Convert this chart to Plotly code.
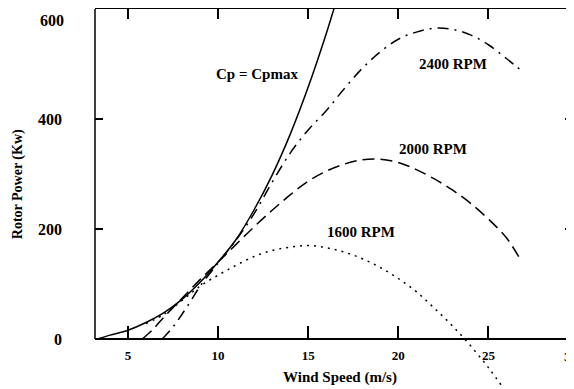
import plotly.graph_objects as go

# ---- data ----
cp_max_v = [3.3, 4, 5, 6, 7, 8, 9, 10, 11, 12, 13, 14, 15, 16, 16.7]
cp_max_p = [0, 7, 16, 30, 48, 72, 103, 140, 181, 235, 298, 372, 458, 555, 630]

rpm2400_v = [6.9, 7.5, 8, 8.5, 9, 10, 11, 12, 13, 14, 15, 16, 17, 18, 19, 20, 21, 22, 23, 24, 25, 26, 26.9]
rpm2400_p = [0, 22, 45, 70, 96, 138, 180, 228, 285, 338, 380, 415, 455, 492, 522, 545, 558, 565, 563, 553, 535, 510, 486]

rpm2000_v = [5.8, 6.4, 7, 8, 9, 10, 11, 12, 13, 14, 15, 16, 17, 18, 19, 20, 21, 22, 23, 24, 25, 26, 26.8]
rpm2000_p = [0, 18, 40, 74, 108, 140, 172, 204, 234, 262, 287, 305, 318, 326, 327, 321, 308, 291, 271, 247, 218, 184, 143]

rpm1600_v = [6, 7, 8, 9, 10, 11, 12, 13, 14, 15, 16, 17, 18, 19, 20, 21, 22, 23, 24, 25, 25.8]
rpm1600_p = [28, 45, 70, 96, 116, 134, 150, 161, 167, 170, 166, 158, 146, 130, 110, 86, 56, 24, -12, -52, -88]

x_ticks = [5, 10, 15, 20, 25]
y_ticks = [0, 200, 400, 600]
y_tick_labels = ["0", "200", "400", ""]   # "600" sits a bit lower in the reference, drawn separately

curve_labels = ["Cp = Cpmax", "2400 RPM", "2000 RPM", "1600 RPM"]
label_x = [12.16, 23.04, 21.93, 17.93]
label_y = [482, 500, 346, 194]

FONT = "Liberation Serif, Times New Roman, Times, serif"
X_RANGE = [3.17, 29.75]
Y_RANGE = [-90.9, 600]

fig = go.Figure()
line_w = 1.5
# Cp=Cpmax curve drawn on the overlaying axis pair (same ranges) so the top/right axis is drawn
fig.add_trace(go.Scatter(x=cp_max_v, y=cp_max_p, mode="lines", xaxis="x2", yaxis="y2",
                         line=dict(color="black", width=line_w, shape="spline")))
fig.add_trace(go.Scatter(x=rpm2400_v, y=rpm2400_p, mode="lines",
                         line=dict(color="black", width=line_w, shape="spline", dash="11px,6px,2px,6px")))
fig.add_trace(go.Scatter(x=rpm2000_v, y=rpm2000_p, mode="lines",
                         line=dict(color="black", width=line_w, shape="spline", dash="12px,6px")))
fig.add_trace(go.Scatter(x=rpm1600_v, y=rpm1600_p, mode="lines",
                         line=dict(color="black", width=line_w, shape="spline", dash="2px,5px")))

for t, xx, yy in zip(curve_labels, label_x, label_y):
    fig.add_annotation(x=xx, y=yy, xref="x", yref="y", text="<b>" + t + "</b>", showarrow=False,
                       font=dict(family=FONT, size=15, color="black"))

# axis titles
fig.add_annotation(x=0.511, y=0.029, xref="paper", yref="paper", xanchor="center", yanchor="middle",
                   text="<b>Wind Speed (m/s)</b>",
                   showarrow=False, font=dict(family=FONT, size=15, color="black"))
fig.add_annotation(x=-0.162, y=0.54, xref="paper", yref="paper", xanchor="center", yanchor="middle",
                   text="<b>Rotor Power (Kw)</b>",
                   textangle=-90, showarrow=False, font=dict(family=FONT, size=14, color="black"))
# the cut-off "30" tick label at the right edge
fig.add_annotation(x=1.0104, y=0, xref="paper", yref="y", yshift=-17, text="<b>30</b>",
                   showarrow=False, font=dict(family=FONT, size=13, color="black"))
# the "600" tick label (slightly below its tick in the reference)
fig.add_annotation(x=-0.0605, y=0.971, xref="paper", yref="paper", xanchor="right", yanchor="middle",
                   text="<b>600</b>",
                   showarrow=False, font=dict(family=FONT, size=16, color="black"))

# left axis line from 0 to 600 only
fig.add_shape(type="line", xref="paper", x0=0, x1=0, yref="y", y0=0, y1=600,
              line=dict(color="black", width=1.5))

fig.update_layout(
    width=566, height=381,
    margin=dict(l=87, r=0, t=1, b=0),
    paper_bgcolor="white", plot_bgcolor="white",
    showlegend=False,
    xaxis=dict(range=X_RANGE, anchor="free", position=0.1316,
               showline=True, linecolor="black", linewidth=2,
               ticks="inside", ticklen=12, tickwidth=1.5, tickcolor="black",
               tickvals=x_ticks, ticktext=["<b>%d</b>" % v for v in x_ticks],
               tickfont=dict(family=FONT, size=13, color="black"), ticklabelstandoff=4,
               showgrid=False, zeroline=False, automargin=False),
    xaxis2=dict(range=X_RANGE, overlaying="x", side="top", anchor="y2",
                showline=True, linecolor="black", linewidth=2,
                ticks="inside", ticklen=10, tickwidth=1.5, tickcolor="black",
                tickvals=x_ticks, showticklabels=False,
                showgrid=False, zeroline=False, automargin=False),
    yaxis=dict(range=Y_RANGE, showline=False,
               ticks="inside", ticklen=8, tickwidth=1.5, tickcolor="black",
               tickvals=y_ticks, ticktext=["<b>%s</b>" % s if s else "" for s in y_tick_labels],
               tickfont=dict(family=FONT, size=16, color="black"), ticklabelstandoff=32,
               showgrid=False, zeroline=False, automargin=False),
    yaxis2=dict(range=Y_RANGE, overlaying="y", side="right", anchor="x2", showline=False,
                ticks="inside", ticklen=9, tickwidth=1.5, tickcolor="black",
                tickvals=[200, 400], showticklabels=False,
                showgrid=False, zeroline=False, automargin=False),
)

fig.write_html("out.html")
